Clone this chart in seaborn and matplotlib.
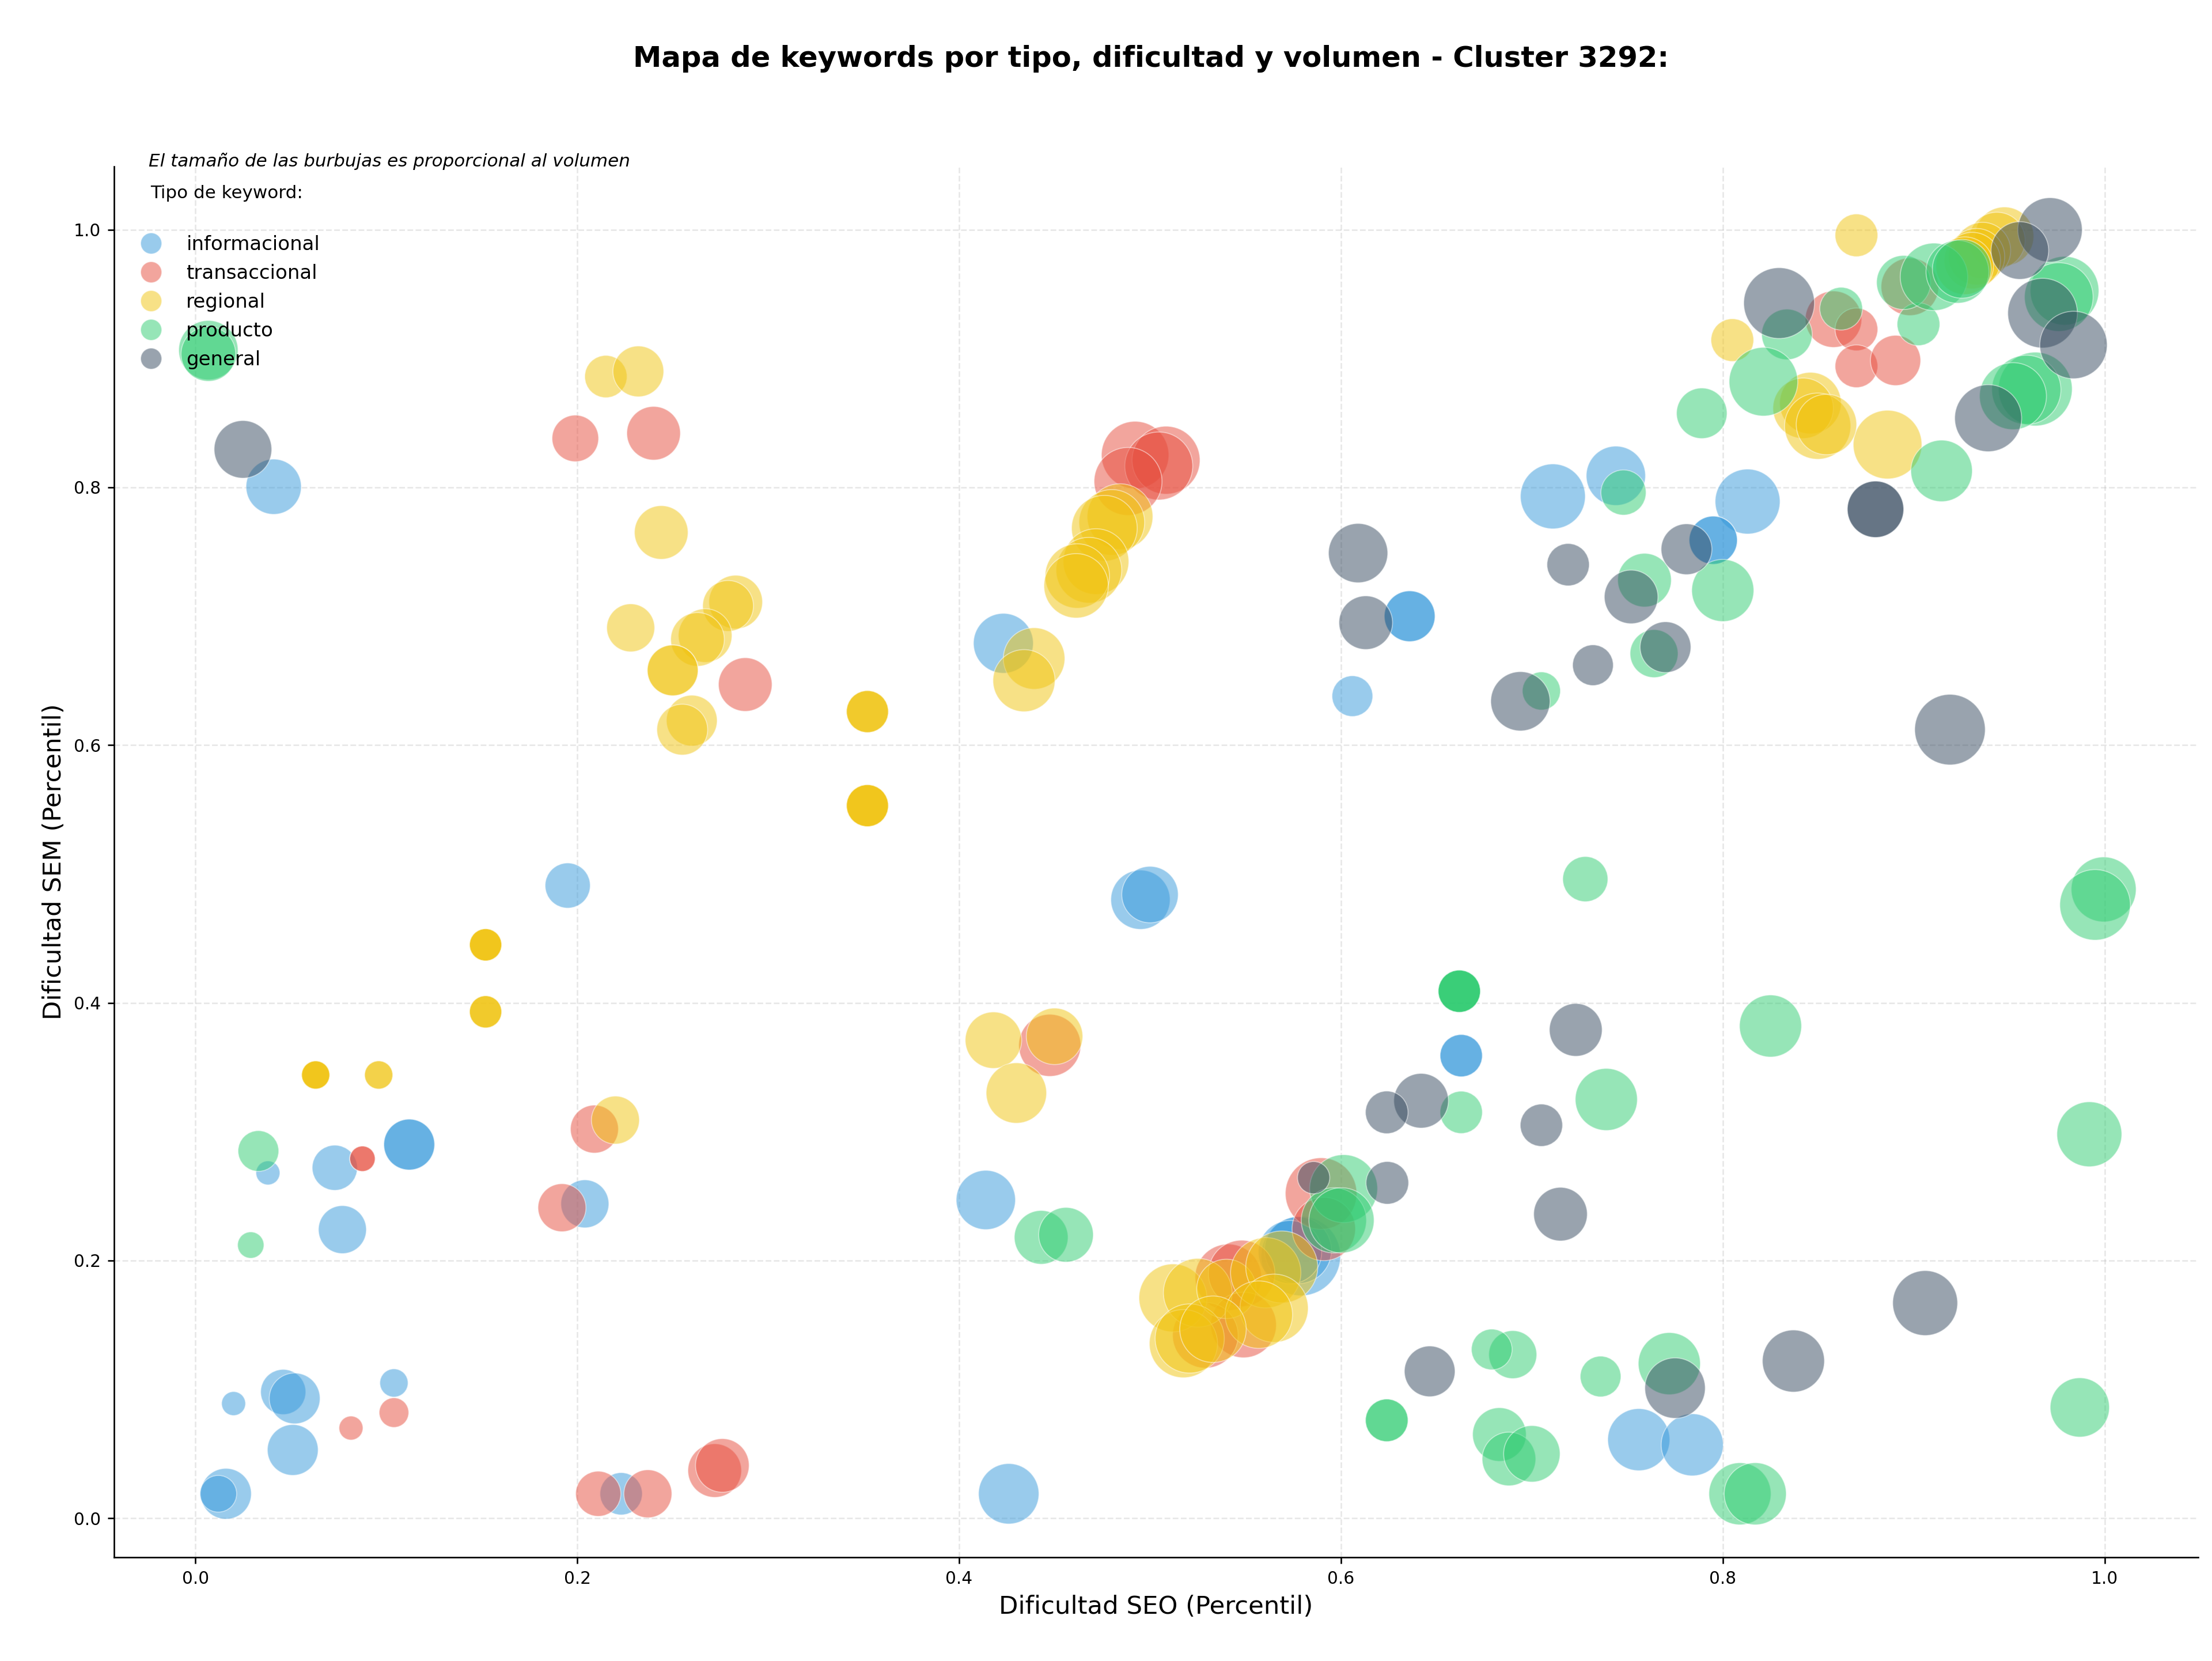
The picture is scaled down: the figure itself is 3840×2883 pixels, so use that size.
import matplotlib
matplotlib.use("Agg")
import matplotlib.pyplot as plt
import numpy as np
import pandas as pd
import seaborn as sns
from matplotlib.lines import Line2D

# Keyword percentiles and search volume, grouped by keyword type
info_seo = [.041,.195,.606,.4232,.711,.744,.813,.795,.795,.636,.636,.663,.663,.495,.500,.112,.112,.073,.038,.077,.204,.414,.104,.020,.046,.052,.051,.016,.012,.223,.426,.756,.784,.579,.5775,.5733]
info_sem = [.8005,.491,.638,.679,.793,.809,.789,.759,.759,.700,.700,.359,.359,.480,.484,.290,.290,.272,.268,.224,.244,.247,.105,.089,.098,.093,.053,.019,.019,.019,.019,.061,.057,.2035,.208,.2065]
info_vol = [9200,6144,5000,10800,12696,10584,12696,7000,7000,7776,7776,5400,5400,10584,9600,7800,7800,6144,1734,6936,6936,10584,2400,1734,6144,7776,7776,7776,4056,5400,11000,11616,11616,19000,13500,12100]

trans_seo = [.199,.240,.288,.0875,.0875,.209,.192,.4475,.104,.0815,.211,.237,.272,.276,.541,.548,.549,.529,.5896,.591,.858,.870,.870,.8905,.898,.4922,.5084,.5046,.4885]
trans_sem = [.838,.842,.647,.279,.279,.302,.241,.367,.082,.070,.019,.019,.037,.041,.187,.190,.150,.142,.252,.2245,.9305,.9226,.894,.8985,.9557,.8251,.8211,.8166,.8046]
trans_vol = [6534,8664,8664,1944,1944,6936,6936,11616,2646,1734,6144,6936,8664,8664,13300,13300,12960,12960,15400,12100,9600,5500,5500,7600,10000,13700,13900,13900,13900]

reg_seo = [.215,.232,.244,.228,.283,.279,.267,.263,.250,.250,.260,.255,.352,.352,.352,.352,.352,.352,.352,.152,.152,.152,.152,.152,.152,.152,.063,.063,.063,.063,.096,.096,.418,.450,.430,.220,.512,.525,.540,.5606,.569,.565,.557,.5175,.5208,.533,.870,.805,.8863,.8459,.8421,.8497,.8543,.9475,.9436,.936,.9329,.9307,.9267,.4843,.480,.4761,.4717,.468,.4619,.4613,.4393,.434]
reg_sem = [.886,.890,.765,.691,.711,.708,.685,.682,.658,.658,.619,.612,.626,.626,.626,.553,.553,.553,.553,.445,.445,.445,.445,.393,.393,.393,.344,.344,.344,.344,.344,.344,.371,.374,.330,.309,.171,.175,.178,.1905,.195,.163,.158,.1355,.1395,.1467,.9956,.9143,.8332,.8654,.8614,.8475,.8488,.9948,.9916,.9838,.979,.976,.972,.7773,.7728,.7683,.7424,.7357,.7312,.7236,.6672,.650]
reg_vol = [5400,7776,8664,6936,8664,7776,8664,8664,7776,7776,7776,7776,5329,5329,5329,5329,5329,5329,5329,3136,3136,3136,3136,3136,3136,3136,2400,2400,2400,2400,2400,2400,9600,9600,11000,6936,13900,14200,10600,14900,15600,14000,13700,14000,14400,13300,5500,5500,14200,11400,11000,13200,11000,10400,9600,9600,9600,9600,10000,13000,13000,13000,13000,13000,12500,12500,11400,11616]

prod_seo = [.0068,.0068,.728,.662,.662,.662,.662,.825,.739,.663,.992,.9995,.995,.987,.772,.690,.679,.736,.624,.624,.683,.688,.700,.809,.817,.443,.456,.033,.029,.705,.759,.764,.800,.748,.6014,.5963,.6003,.862,.8336,.8213,.789,.9025,.8947,.9106,.9229,.9252,.979,.976,.9637,.959,.952,.9146]
prod_sem = [.9065,.9035,.496,.409,.409,.409,.409,.382,.325,.315,.298,.488,.476,.086,.120,.127,.131,.110,.076,.076,.065,.046,.050,.019,.019,.218,.220,.285,.212,.642,.728,.671,.720,.796,.2558,.2312,.2312,.9387,.9187,.882,.8575,.9266,.959,.9634,.9673,.9696,.9526,.9477,.8763,.8757,.8708,.8128]
prod_vol = [10600,9000,6144,5400,5400,5400,5400,11616,11616,5400,12696,12696,15000,10584,11616,6936,5000,5000,5476,5476,8664,8664,9600,11616,11616,8700,9000,5000,2100,4374,8664,6936,11616,6144,13900,12800,12800,5500,7700,14200,7700,5500,8800,13700,11900,10400,14200,14200,16400,14400,13500,11400]

gen_seo = [.0249,.609,.613,.719,.732,.694,.752,.770,.781,.880,.880,.919,.723,.642,.624,.705,.715,.6465,.775,.837,.906,.5857,.6243,.8295,.9714,.9556,.9675,.9837,.939]
gen_sem = [.8295,.749,.695,.740,.662,.634,.715,.676,.752,.783,.783,.612,.379,.324,.315,.305,.236,.114,.101,.122,.167,.2643,.2603,.943,.9998,.9838,.9352,.9105,.8537]
gen_vol = [10000,10584,8664,5400,5000,10584,8664,7776,7776,9600,9600,15000,8400,9000,5476,5400,8664,7744,11000,11616,12696,3136,5476,15100,12500,10000,14600,13700,13500]

tipos = ["informacional", "transaccional", "regional", "producto", "general"]
colores = {"informacional": "#3498db", "transaccional": "#e74c3c", "regional": "#f1c40f",
           "producto": "#2ecc71", "general": "#34495e"}
titulo = "Mapa de keywords por tipo, dificultad y volumen - Cluster 3292:"
subtitulo = "El tamaño de las burbujas es proporcional al volumen"
leyenda_titulo = "Tipo de keyword:"

series = zip(tipos, (info_seo, trans_seo, reg_seo, prod_seo, gen_seo),
             (info_sem, trans_sem, reg_sem, prod_sem, gen_sem),
             (info_vol, trans_vol, reg_vol, prod_vol, gen_vol))
df = pd.concat([pd.DataFrame({"tipo": t, "seo": x, "sem": y, "volumen": v}) for t, x, y, v in series],
               ignore_index=True)

sns.set_style("white")
plt.rcParams["font.family"] = ["DejaVu Sans"]
plt.rcParams["text.color"] = "black"
plt.rcParams["axes.labelcolor"] = "black"

W, H, DPI = 3840, 2883, 240
fig = plt.figure(figsize=(W / DPI, H / DPI), dpi=DPI)
ax = fig.add_axes([198 / W, 1 - 2703 / H, (3816 - 198) / W, (2703 - 289) / H])

# Marker area grows linearly with volume
AREA = 0.09
vmin, vmax = df["volumen"].min(), df["volumen"].max()
sns.scatterplot(data=df, x="seo", y="sem", hue="tipo", hue_order=tipos, palette=colores,
                size="volumen", sizes=(vmin * AREA, vmax * AREA), size_norm=(vmin, vmax),
                alpha=0.5, edgecolor="white", linewidth=0.5, legend=False, ax=ax, zorder=3)

ax.set_xlim(-0.0426, 1.049)
ax.set_ylim(-0.0303, 1.049)
ax.set_xticks(np.arange(0, 1.01, 0.2))
ax.set_yticks(np.arange(0, 1.01, 0.2))
ax.grid(True, linestyle="--", color="#b0b0b0", alpha=0.3, linewidth=0.8)
ax.tick_params(axis="both", left=True, bottom=True, length=3.3, width=0.8, labelsize=8.9, colors="black")
sns.despine(ax=ax)
for s in ("left", "bottom"):
    ax.spines[s].set_color("black")
    ax.spines[s].set_linewidth(0.8)
ax.set_xlabel("Dificultad SEO (Percentil)", fontsize=13)
ax.set_ylabel("Dificultad SEM (Percentil)", fontsize=13)

fig.text(1998 / W, 1 - 102 / H, titulo, fontsize=14.9, fontweight="bold", ha="center", va="center")
fig.text(258 / W, 1 - 280 / H, subtitulo, fontsize=9.3, style="italic", ha="left", va="center")
fig.text(261 / W, 1 - 335 / H, leyenda_titulo, fontsize=9.3, ha="left", va="center")

handles = [Line2D([], [], linestyle="", marker="o", markersize=11, markerfacecolor=colores[t],
                  markeredgecolor="white", markeredgewidth=0.5, alpha=0.5, label=t) for t in tipos]
ax.legend(handles=handles, loc="upper left", bbox_to_anchor=(0.0027, 0.959), frameon=False, fontsize=10.2,
          labelspacing=0.5, handletextpad=0.8, borderaxespad=0.2)

fig.savefig("out.png", dpi=DPI)
